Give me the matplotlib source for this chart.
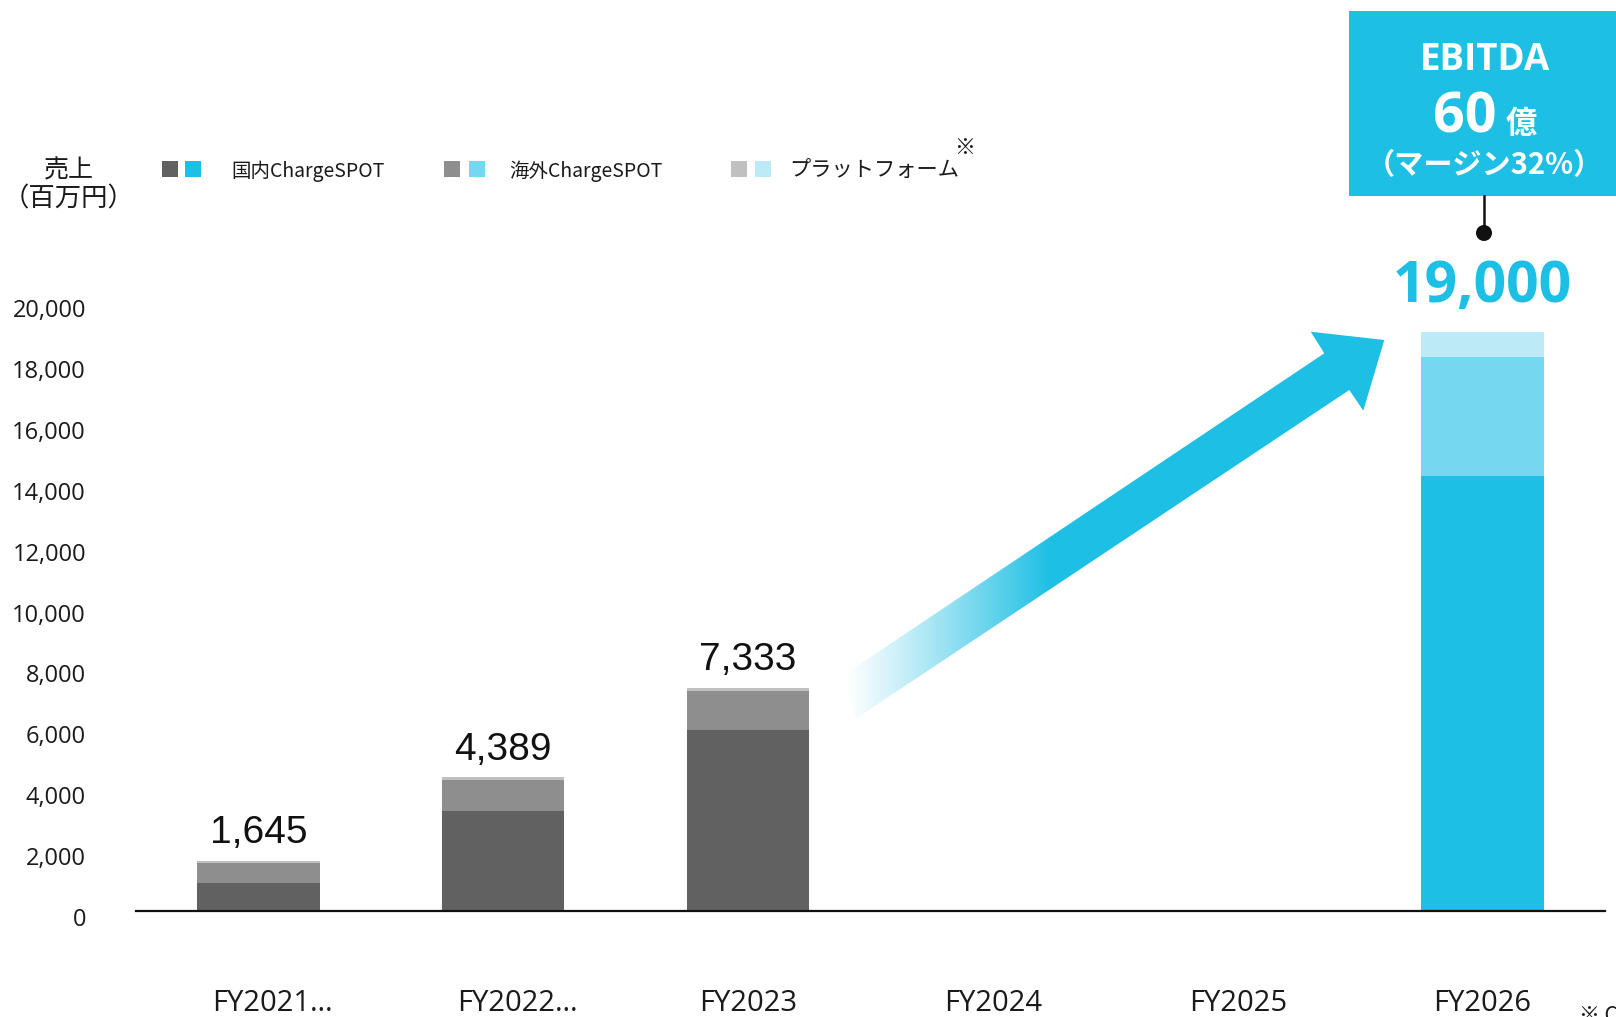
import numpy as np
import matplotlib
matplotlib.use("Agg")
import matplotlib.pyplot as plt
from matplotlib.patches import Rectangle, Polygon, Circle
from matplotlib.transforms import ScaledTranslation

# ---- data (百万円) ----
years = ["FY2021…", "FY2022…", "FY2023", "FY2024", "FY2025", "FY2026"]
domestic = [930, 3300, 5950, 0, 0, 14300]      # 国内ChargeSPOT
overseas = [660, 999, 1283, 0, 0, 3900]        # 海外ChargeSPOT
platform = [55, 90, 100, 0, 0, 800]            # プラットフォーム
y_ticks = list(range(0, 20001, 2000))
series_names = ["国内ChargeSPOT", "海外ChargeSPOT", "プラットフォーム"]
ebitda_oku = 60
ebitda_margin = 32

# ---- styling ----
CYAN = "#1DBFE4"
grey_cols = ["#616161", "#8E8E8E", "#C0C0C0"]
cyan_cols = [CYAN, "#76D7F0", "#BCEAF6"]
JP = "Noto Sans CJK JP"
W, H = 1616, 1017

fig = plt.figure(figsize=(W / 100, H / 100), dpi=100)
fig.patch.set_facecolor("white")

ax = fig.add_axes([136 / W, 1 - 911 / H, (1605 - 136) / W, 911 / H], zorder=1)
ax.set_xlim(-0.5, 5.5)
ax.set_ylim(0, 29920)
ax.patch.set_alpha(0)

x = np.arange(len(years))
forecast = [False, False, False, False, False, True]
totals = [d + o + p for d, o, p in zip(domestic, overseas, platform)]

for i in x:
    cols = cyan_cols if forecast[i] else grey_cols
    bottom = 0
    for val, col in zip((domestic[i], overseas[i], platform[i]), cols):
        if val > 0:
            ax.bar(i, val, bottom=bottom, width=0.5, color=col, edgecolor="none", zorder=2)
        bottom += val

# value labels
for i in x:
    if totals[i] == 0:
        continue
    if forecast[i]:
        ax.annotate(f"{totals[i]:,}", xy=(i, totals[i]), xytext=(0, 33),
                    textcoords="offset points", ha="center", va="center",
                    fontsize=41, fontweight="bold", color=CYAN, family="Open Sans")
    else:
        ax.annotate(f"{totals[i]:,}", xy=(i, totals[i]), xytext=(0, 20),
                    textcoords="offset points", ha="center", va="center",
                    fontsize=28, color="#111111", family="Liberation Sans")

# axes styling
for s in ("left", "right", "top"):
    ax.spines[s].set_visible(False)
ax.spines["bottom"].set_linewidth(1.6)
ax.spines["bottom"].set_color("#111111")

ax.set_yticks(y_ticks)
ax.set_yticklabels([f"{v:,}" for v in y_ticks], family="Open Sans", fontsize=17, color="#1a1a1a")
ax.tick_params(axis="y", length=0, pad=36)
shift = ScaledTranslation(0, -6 / 100, fig.dpi_scale_trans)
for lbl in ax.get_yticklabels():
    lbl.set_transform(lbl.get_transform() + shift)

ax.set_xticks(x)
ax.set_xticklabels(years, family="Open Sans", fontsize=21, color="#1a1a1a")
ax.tick_params(axis="x", length=0, pad=56)
# truncated labels sit a little to the right of their slot centre
trunc_shift = ScaledTranslation(14.5 / 100, 0, fig.dpi_scale_trans)
for lbl in ax.get_xticklabels():
    if lbl.get_text().endswith("…"):
        lbl.set_transform(lbl.get_transform() + trunc_shift)

# ---- overlay in pixel space for decorations ----
ov = fig.add_axes([0, 0, 1, 1], zorder=3)
ov.set_xlim(0, W)
ov.set_ylim(H, 0)
ov.axis("off")
ov.patch.set_alpha(0)

# growth arrow with fade-in tail
arrow_pts = [(843, 675.5), (1324.3, 353.3), (1310.7, 331.7), (1384.3, 340),
             (1363.3, 410.7), (1349.3, 390), (856, 718.5)]
arrow = Polygon(arrow_pts, closed=True, facecolor="none", edgecolor="none")
ov.add_patch(arrow)
gx = np.linspace(835, 1395, 600)
alpha = np.clip((gx - 845) / (1050 - 845), 0, 1) ** 1.1
rgba = np.zeros((2, gx.size, 4))
rgba[..., 0] = 0x1D / 255
rgba[..., 1] = 0xBF / 255
rgba[..., 2] = 0xE4 / 255
rgba[..., 3] = alpha
im = ov.imshow(rgba, extent=(835, 1395, 725, 325), aspect="auto",
               interpolation="bilinear", zorder=2)
im.set_clip_path(arrow)
ov.set_xlim(0, W)
ov.set_ylim(H, 0)

# EBITDA box and connector
ov.add_patch(Rectangle((1349, 11), 280, 185, facecolor=CYAN, edgecolor="none", zorder=4))
ov.text(1485, 60, "EBITDA", ha="center", va="center", color="white",
        fontsize=26.5, fontweight="bold", family="Open Sans", zorder=5)
ov.text(1465, 118, f"{ebitda_oku}", ha="center", va="center", color="white",
        fontsize=40, fontweight="bold", family="Open Sans", zorder=5)
ov.text(1521, 124, "億", ha="center", va="center", color="white",
        fontsize=22.5, fontweight="bold", family=JP, zorder=5)
ov.text(1484, 165, f"（マージン{ebitda_margin}%）", ha="center", va="center", color="white",
        fontsize=21, fontweight="bold", family=JP, zorder=5)
ov.plot([1484, 1484], [196, 230], color="#111111", lw=1.8, zorder=4)
ov.add_patch(Circle((1484, 233), 8, facecolor="#111111", edgecolor="none", zorder=4))

# legend
ov.text(69, 170, "売上", ha="center", va="center", fontsize=18, family=JP, color="#1a1a1a")
ov.text(69, 199, "（百万円）", ha="center", va="center", fontsize=19, family=JP, color="#1a1a1a")
sw = [(162, 185, 231), (444, 469, 509), (731, 755, 789)]
name_sizes = [14, 14, 15.3]
for k, (gxp, cxp, txp) in enumerate(sw):
    ov.add_patch(Rectangle((gxp, 161), 15.5, 15.5, facecolor=grey_cols[k], edgecolor="none"))
    ov.add_patch(Rectangle((cxp, 161), 15.5, 15.5, facecolor=cyan_cols[k], edgecolor="none"))
    ov.text(txp, 171, series_names[k], ha="left", va="center", fontsize=name_sizes[k],
            family=JP, color="#1a1a1a")
ov.text(965, 148, "※", ha="center", va="center", fontsize=15, family=JP, color="#1a1a1a")
ov.text(1579, 1005, "※ ChargeSPOT", ha="left", va="top", fontsize=15, family=JP, color="#1a1a1a")

fig.savefig("out.png", dpi=100)
